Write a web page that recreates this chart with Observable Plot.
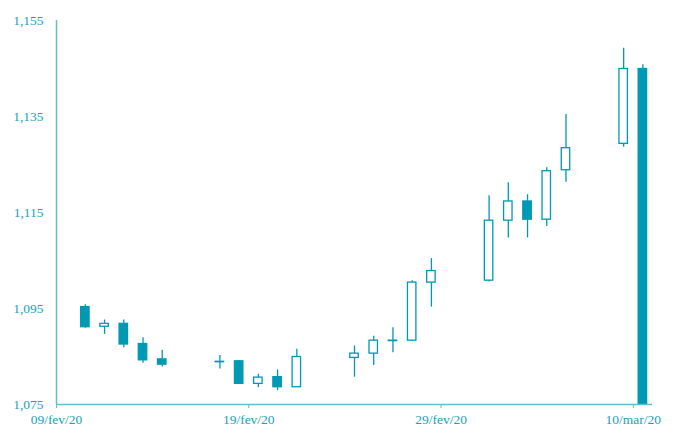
<!DOCTYPE html>
<html>
<head>
<meta charset="utf-8">
<script src="https://cdn.jsdelivr.net/npm/d3@7"></script>
<script src="https://cdn.jsdelivr.net/npm/@observablehq/plot@0.6"></script>
<style>
  html, body { margin: 0; padding: 0; background: #fff; }
  #chart { width: 673px; height: 430px; }
</style>
</head>
<body>
<div id="chart"></div>
<script>
// Daily EUR/USD candles
const dates = ["2020-02-10","2020-02-11","2020-02-12","2020-02-13","2020-02-14",
               "2020-02-17","2020-02-18","2020-02-19","2020-02-20","2020-02-21",
               "2020-02-24","2020-02-25","2020-02-26","2020-02-27","2020-02-28",
               "2020-03-02","2020-03-03","2020-03-04","2020-03-05","2020-03-06",
               "2020-03-09","2020-03-10"];
const opens  = [1.0953,1.0912,1.0918,1.0876,1.0844,1.0839,1.0840,1.0793,1.0807,1.0786,
                1.0847,1.0856,1.0882,1.0883,1.1004,1.1008,1.1133,1.1173,1.1135,1.1238,
                1.1293,1.1449];
const highs  = [1.0958,1.0926,1.0926,1.0889,1.0863,1.0852,1.0841,1.0813,1.0822,1.0865,
                1.0872,1.0892,1.0910,1.1008,1.1054,1.1185,1.1212,1.1187,1.1243,1.1354,
                1.1492,1.1458];
const lows   = [1.0909,1.0896,1.0868,1.0836,1.0828,1.0824,1.0792,1.0785,1.0779,1.0786,
                1.0807,1.0831,1.0858,1.0881,1.0953,1.1005,1.1097,1.1097,1.1121,1.1213,
                1.1286,1.0750];
const closes = [1.0911,1.0918,1.0875,1.0842,1.0833,1.0838,1.0793,1.0806,1.0786,1.0849,
                1.0856,1.0883,1.0883,1.1004,1.1028,1.1133,1.1173,1.1135,1.1236,1.1284,
                1.1449,1.0750];

const yTicks = [1.075, 1.095, 1.115, 1.135, 1.155];
const xTickDates = ["2020-02-09","2020-02-19","2020-02-29","2020-03-10"];
const xTickLabels = ["09/fev/20","19/fev/20","29/fev/20","10/mar/20"];
const xDomainDates = ["2020-02-09","2020-03-11"];

const DAY = 86400000;
const candles = dates.map((d, i) => ({
  date: new Date(d + "T00:00:00Z"),
  open: opens[i], high: highs[i], low: lows[i], close: closes[i]
}));
const mid = d => new Date(+d.date + DAY / 2);
const x1 = d => new Date(+d.date + DAY / 2 - 0.22 * DAY);
const x2 = d => new Date(+d.date + DAY / 2 + 0.22 * DAY);
const tickDates = xTickDates.map(s => new Date(s + "T00:00:00Z"));
const xDomain = xDomainDates.map(s => new Date(s + "T00:00:00Z"));

const TEAL = "#0099b4";
const AXIS = "#5cc0d2";
const TEXT = "#1aa0bc";
const fmtY = v => d3.format(".3f")(v).replace(".", ",");

const chart = Plot.plot({
  width: 673,
  height: 430,
  marginLeft: 56,
  marginRight: 21,
  marginTop: 20,
  marginBottom: 26,
  style: { fontFamily: "'Liberation Serif', 'DejaVu Serif', serif", fontSize: "13.5px", color: TEXT, background: "#fff" },
  x: { type: "utc", domain: xDomain },
  y: { domain: [yTicks[0], yTicks[yTicks.length - 1]] },
  marks: [
    Plot.axisY({ ticks: yTicks, tickFormat: fmtY, tickSize: 0, tickPadding: 13, label: null, fill: TEXT }),
    Plot.axisX({ ticks: tickDates, tickFormat: d => xTickLabels[tickDates.findIndex(t => +t === +d)], tickSize: 4, tickPadding: 6, label: null, stroke: AXIS, fill: TEXT }),
    Plot.ruleX([xDomain[0]], { stroke: AXIS, strokeWidth: 1.5 }),
    Plot.ruleX(candles, { x: mid, y1: "low", y2: "high", stroke: TEAL, strokeWidth: 1.3 }),
    Plot.rect(candles, {
      x1, x2,
      y1: "open", y2: "close",
      fill: d => d.close < d.open ? TEAL : "#ffffff",
      stroke: TEAL, strokeWidth: 1.3
    }),
    Plot.ruleY([yTicks[0]], { stroke: AXIS, strokeWidth: 1.5 })
  ]
});
document.getElementById("chart").appendChild(chart);
</script>
</body>
</html>
